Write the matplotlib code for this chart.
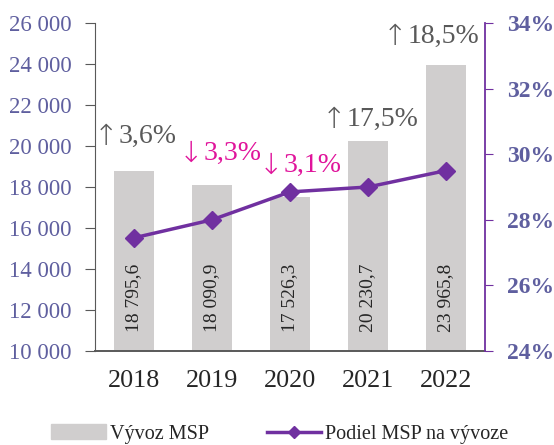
import matplotlib
matplotlib.use("Agg")
import matplotlib.pyplot as plt
from matplotlib.ticker import FuncFormatter
from matplotlib.patches import Patch
from matplotlib.lines import Line2D

years = ["2018", "2019", "2020", "2021", "2022"]
export_msp = [18795.6, 18090.9, 17526.3, 20230.7, 23965.8]
share_pct = [27.45, 28.0, 28.85, 29.0, 29.5]
change_arrows = ["↑", "↓", "↓", "↑", "↑"]
change_values = ["3,6%", "3,3%", "3,1%", "17,5%", "18,5%"]
change_up = [True, False, False, True, True]
bar_labels = ["18 795,6", "18 090,9", "17 526,3", "20 230,7", "23 965,8"]

plt.rcParams['font.family'] = ['Liberation Serif', 'DejaVu Serif']

W, H = 554, 445
L, R, B, T = 95, 485, 351, 23
fig = plt.figure(figsize=(W / 100, H / 100), dpi=100)
ax = fig.add_axes([L / W, 1 - B / H, (R - L) / W, (B - T) / H])
ax2 = ax.twinx()

x = list(range(len(years)))
ax.bar(x, export_msp, width=0.525, color="#d0cece", zorder=1)
ax.set_ylim(10000, 26000)
ax.set_xlim(-0.5, 4.5)
ax.set_yticks(range(10000, 26001, 2000))
ax.yaxis.set_major_formatter(FuncFormatter(lambda v, p: f"{int(v):,}".replace(",", " ")))
ax.tick_params(axis='y', colors="#595959", labelcolor="#5f5f9f", labelsize=16.5, length=7, pad=10)
ax.set_xticks(x)
ax.set_xticklabels(years)
ax.tick_params(axis='x', length=0, labelsize=18.8, labelcolor="#262626", pad=14)
for s in ['top', 'right']:
    ax.spines[s].set_visible(False)
ax.spines['left'].set_color("#595959")
ax.spines['bottom'].set_color("#595959")
ax.spines['bottom'].set_linewidth(1.4)

for i, lab in enumerate(bar_labels):
    ax.text(i, 10950, lab, rotation=90, ha='center', va='bottom', fontsize=14, color="#262626")

ax2.plot(x, share_pct, color="#7030a0", lw=2.5, marker='D', markersize=9, zorder=3)
ax2.set_ylim(24, 34)
ax2.set_yticks(range(24, 35, 2))
ax2.yaxis.set_major_formatter(FuncFormatter(lambda v, p: f"{int(v)}%"))
ax2.tick_params(axis='y', colors="#7030a0", labelcolor="#5f5f9f", labelsize=17, length=6, pad=10)
for lab in ax2.get_yticklabels():
    lab.set_fontweight('bold')
for s in ['top', 'left', 'bottom']:
    ax2.spines[s].set_visible(False)
ax2.spines['right'].set_color("#7030a0")
ax2.spines['right'].set_linewidth(1.3)

# annotation placement (pixel offsets of arrow/number boundary, baseline offset above bar)
bound_px = [-15, -8, -6, -21, -38]
base_off = [1350, 1226, 1206, 745, 1058]
px_per_cat = (R - L) / 5
for i in range(len(years)):
    col = "#595959" if change_up[i] else "#e0149b"
    xb = i + bound_px[i] / px_per_cat
    yb = export_msp[i] + base_off[i]
    ax.text(xb - 0.5 / px_per_cat, yb - 80, change_arrows[i], ha='right', va='baseline', fontsize=21,
            family='DejaVu Sans', fontweight='light', color=col, zorder=4)
    ax.text(xb, yb, change_values[i], ha='left', va='baseline', fontsize=20,
            color=col, zorder=4)

handles = [Patch(color="#d0cece", label="Vývoz MSP"),
           Line2D([0], [0], color="#7030a0", lw=2.5, marker='D', markersize=6, label="Podiel MSP na vývoze")]
fig.legend(handles=handles, loc='center', bbox_to_anchor=(280 / W, 1 - 434 / H), ncol=2, frameon=False,
           fontsize=14.5, handlelength=2.7, columnspacing=2.9, handletextpad=0.2, labelcolor="#262626",
           borderpad=0, borderaxespad=0)

fig.savefig("out.png", dpi=100)
